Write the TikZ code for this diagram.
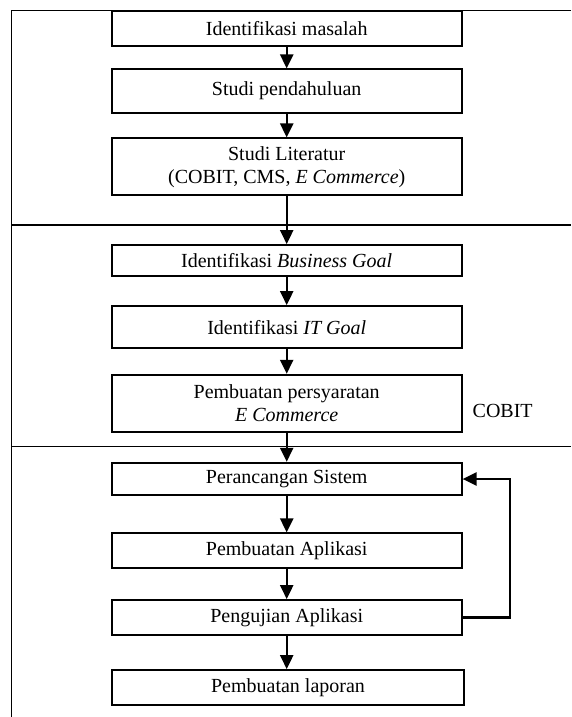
\documentclass[tikz,border=0pt]{standalone}
\usepackage{fontspec}
\setmainfont{Liberation Serif}
\usetikzlibrary{arrows.meta}
\begin{document}
\begin{tikzpicture}[x=1pt,y=-1pt,
  box/.style={draw, line width=1.8pt, minimum width=350pt, inner sep=0pt, align=center, font=\fontsize{20}{23}\selectfont},
  lbl/.style={inner sep=0pt, font=\fontsize{20}{23}\selectfont},
  flow/.style={line width=2.4pt, -{Triangle[length=14pt,width=13pt]}},
  frame/.style={line width=1.5pt}]
\useasboundingbox (0,0) rectangle (571,717);
% frame and separators
\coordinate (ftr) at (571,10.7);
\coordinate (ftl) at (11.7,10.7);
\coordinate (fbl) at (11.7,717);
\coordinate (s1l) at (11.7,225);
\coordinate (s1r) at (571,225);
\coordinate (s2l) at (11.7,446.7);
\coordinate (s2r) at (571,446.7);
\draw[frame] (ftr) -- (ftl) -- (fbl);
\draw[frame] (s1l) -- (s1r);
\draw[frame] (s2l) -- (s2r);
% boxes
\node[box, minimum height=35pt, fill=white] (b1) at (286.7,28.2) {Identifikasi masalah};
\node[box, minimum height=43.4pt] (b2) at (286.7,91) {Studi pendahuluan};
\node[box, minimum height=57pt] (b3) at (286.7,166.8) {Studi Literatur\\(COBIT, CMS, \textit{E Commerce})};
\node[box, minimum height=30.7pt] (b4) at (286.7,260.35) {Identifikasi \textit{Business Goal}};
\node[box, minimum height=42.3pt] (b5) at (286.7,327.15) {Identifikasi \textit{IT Goal}};
\node[box, minimum height=57.6pt] (b6) at (286.7,403.5) {Pembuatan persyaratan\\\textit{E Commerce}};
\node[box, minimum height=32.6pt] (b7) at (286.7,479) {Perancangan Sistem};
\node[box, minimum height=34.7pt] (b8) at (286.7,550.65) {Pembuatan Aplikasi};
\node[box, minimum height=35.3pt] (b9) at (286.7,617.65) {Pengujian Aplikasi};
\node[box, minimum height=35pt, minimum width=352.6pt] (b10) at (288,687.5) {Pembuatan laporan};
\node[lbl] (cobit) at (502.7,410.7) {COBIT};
% connectors
\draw[flow] (b1) -- (b2);
\draw[flow] (b2) -- (b3);
\draw[flow] (b3) -- (b4);
\draw[flow] (b4) -- (b5);
\draw[flow] (b5) -- (b6);
\draw[flow] (b6) -- (b7);
\draw[flow] (b7) -- (b8);
\draw[flow] (b8) -- (b9);
\draw[flow] (b9.south) -- (b9.south |- b10.north);
\draw[flow] (b9.east) -- ++(47.6,0) |- (b7.east);
\end{tikzpicture}
\end{document}
